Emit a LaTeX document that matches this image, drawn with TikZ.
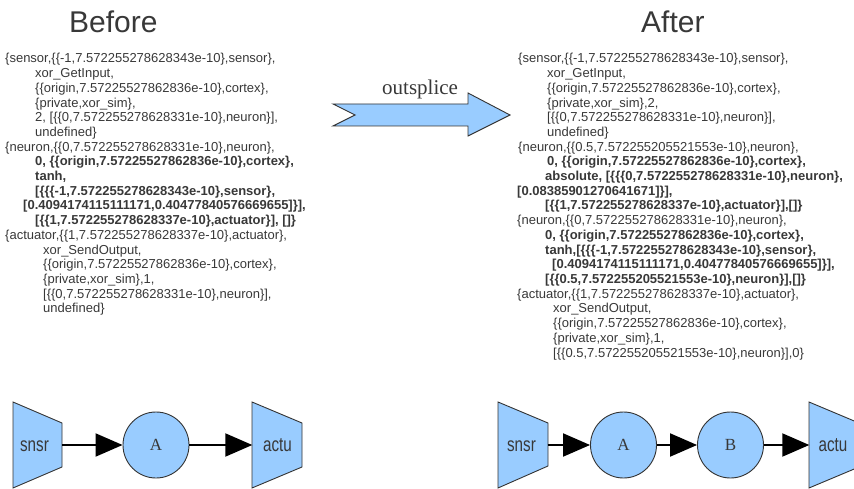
\documentclass[tikz,border=0pt]{standalone}
\usepackage{fontspec}
\setmainfont{Liberation Sans}
\newfontfamily\serifface{Liberation Serif}
\usepackage{graphicx}
\usetikzlibrary{arrows.meta}
\definecolor{nodeblue}{HTML}{99CCFF}
\definecolor{ink}{HTML}{333333}
\definecolor{txtgray}{HTML}{383838}
\newcommand\tline[5]{\node[#1] (#2) at (#3,{63+(#4-1)*14.7}) {#5};}
\begin{document}
\begin{tikzpicture}[x=1pt,y=-1pt,
  txt/.style={anchor=base west,inner sep=0,text=txtgray,font=\fontsize{13}{15}\selectfont},
  btxt/.style={txt,font=\fontsize{13}{15}\selectfont\bfseries},
  title/.style={anchor=base west,inner sep=0,text=txtgray,font=\fontsize{30}{36}\selectfont},
  portshape/.style={fill=nodeblue,draw=ink,line width=0.9pt,line join=miter},
  portbox/.style={rectangle,minimum width=49pt,minimum height=44pt,inner sep=0},
  porttext/.style={text=txtgray,font=\fontsize{20}{24}\selectfont,inner sep=0},
  neuron/.style={circle,fill=nodeblue,draw=ink,line width=0.9pt,minimum size=66pt,inner sep=0,text=txtgray,font=\serifface\fontsize{17}{20}\selectfont},
  conn/.style={line width=2pt,-{Triangle[length=27pt,width=23pt]}},
  bigarrow/.style={fill=nodeblue,draw=ink,line width=0.9pt,line join=miter},
  ]
\useasboundingbox (0,0) rectangle (854,489);
\begin{scope}
\clip (0,0) rectangle (854,489);

% titles
\node[title] (tbefore) at (69,33) {Before};
\node[title] (tafter) at (641,33) {After};

% left text
\tline{txt}{L1}{5}{1}{\{sensor,\{\{-1,7.572255278628343e-10\},sensor\},}
\tline{txt}{L2}{35}{2}{xor\_GetInput,}
\tline{txt}{L3}{35}{3}{\{\{origin,7.57225527862836e-10\},cortex\},}
\tline{txt}{L4}{35}{4}{\{private,xor\_sim\},}
\tline{txt}{L5}{35}{5}{2, [\{\{0,7.572255278628331e-10\},neuron\}],}
\tline{txt}{L6}{35}{6}{undefined\}}
\tline{txt}{L7}{5}{7}{\{neuron,\{\{0,7.572255278628331e-10\},neuron\},}
\tline{btxt}{L8}{35}{8}{0, \{\{origin,7.57225527862836e-10\},cortex\},}
\tline{btxt}{L9}{35}{9}{tanh,}
\tline{btxt}{L10}{35}{10}{[\{\{\{-1,7.572255278628343e-10\},sensor\},}
\tline{btxt}{L11}{23}{11}{[0.4094174115111171,0.40477840576669655]\}],}
\tline{btxt}{L12}{35}{12}{[\{\{1,7.572255278628337e-10\},actuator\}], []\}}
\tline{txt}{L13}{5}{13}{\{actuator,\{\{1,7.572255278628337e-10\},actuator\},}
\tline{txt}{L14}{43}{14}{xor\_SendOutput,}
\tline{txt}{L15}{43}{15}{\{\{origin,7.57225527862836e-10\},cortex\},}
\tline{txt}{L16}{43}{16}{\{private,xor\_sim\},1,}
\tline{txt}{L17}{43}{17}{[\{\{0,7.572255278628331e-10\},neuron\}],}
\tline{txt}{L18}{43}{18}{undefined\}}

% right text
\tline{txt}{R1}{518}{1}{\{sensor,\{\{-1,7.572255278628343e-10\},sensor\},}
\tline{txt}{R2}{547}{2}{xor\_GetInput,}
\tline{txt}{R3}{547}{3}{\{\{origin,7.57225527862836e-10\},cortex\},}
\tline{txt}{R4}{547}{4}{\{private,xor\_sim\},2,}
\tline{txt}{R5}{547}{5}{[\{\{0,7.572255278628331e-10\},neuron\}],}
\tline{txt}{R6}{547}{6}{undefined\}}
\tline{txt}{R7}{518}{7}{\{neuron,\{\{0.5,7.572255205521553e-10\},neuron\},}
\tline{btxt}{R8}{547}{8}{0, \{\{origin,7.57225527862836e-10\},cortex\},}
\tline{btxt}{R9}{545}{9}{absolute, [\{\{\{0,7.572255278628331e-10\},neuron\},}
\tline{btxt}{R10}{517}{10}{[0.08385901270641671]\}],}
\tline{btxt}{R11}{545}{11}{[\{\{1,7.572255278628337e-10\},actuator\}],[]\}}
\tline{txt}{R12}{517}{12}{\{neuron,\{\{0,7.572255278628331e-10\},neuron\},}
\tline{btxt}{R13}{545}{13}{0, \{\{origin,7.57225527862836e-10\},cortex\},}
\tline{btxt}{R14}{545}{14}{tanh,[\{\{\{-1,7.572255278628343e-10\},sensor\},}
\tline{btxt}{R15}{552}{15}{[0.4094174115111171,0.40477840576669655]\}],}
\tline{btxt}{R16}{545}{16}{[\{\{0.5,7.572255205521553e-10\},neuron\}],[]\}}
\tline{txt}{R17}{517}{17}{\{actuator,\{\{1,7.572255278628337e-10\},actuator\},}
\tline{txt}{R18}{553}{18}{xor\_SendOutput,}
\tline{txt}{R19}{553}{19}{\{\{origin,7.57225527862836e-10\},cortex\},}
\tline{txt}{R20}{553}{20}{\{private,xor\_sim\},1,}
\tline{txt}{R21}{553}{21}{[\{\{0.5,7.572255205521553e-10\},neuron\}],0\}}

% outsplice arrow
\draw[bigarrow] (333,104) -- (468,104) -- (468,93) -- (510,115) -- (468,136) -- (468,126) -- (333,126) -- (355,115) -- cycle;
\node[anchor=base west,inner sep=0,text=txtgray,font=\serifface\fontsize{21}{24}\selectfont] (osp) at (382,95) {outsplice};

% left network
\draw[portshape] (13,402) -- (62,423) -- (62,467) -- (13,488) -- cycle;
\node[portbox] (snsrL) at (37.5,445) {};
\node[porttext] (snsrLt) at (34.5,446) {\scalebox{0.76}[1]{snsr}};
\node[neuron] (AL) at (156,445) {A};
\draw[portshape] (252,402) -- (302,423) -- (302,467) -- (252,488) -- cycle;
\node[portbox] (actuL) at (277,445) {};
\node[porttext] (actuLt) at (277.5,445) {\scalebox{0.76}[1]{actu}};
\draw[conn] (snsrL.east) -- (AL.west);
\draw[conn] (AL.east) -- (actuL.west);

% right network
\draw[portshape] (498,402) -- (548,423) -- (548,466) -- (498,488) -- cycle;
\node[portbox] (snsrR) at (523,445) {};
\node[porttext] (snsrRt) at (521.5,446) {\scalebox{0.76}[1]{snsr}};
\node[neuron] (AR) at (623.5,445) {A};
\node[neuron] (BR) at (730.5,445) {B};
\draw[portshape] (809,402) -- (859,423) -- (859,467) -- (809,488) -- cycle;
\node[portbox] (actuR) at (834,445) {};
\node[porttext] (actuRt) at (833,445) {\scalebox{0.76}[1]{actu}};
\draw[conn] (snsrR.east) -- (AR.west);
\draw[conn] (AR.east) -- (BR.west);
\draw[conn] (BR.east) -- (actuR.west);
\end{scope}
\end{tikzpicture}
\end{document}
